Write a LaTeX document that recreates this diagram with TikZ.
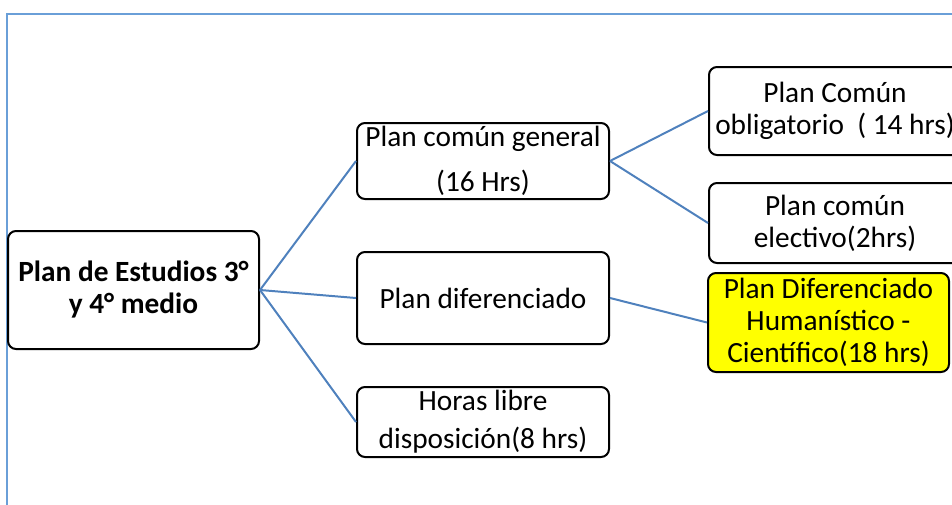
\documentclass[tikz,border=0pt]{standalone}
\usepackage{fontspec}
\setmainfont{Carlito}
\definecolor{linkblue}{HTML}{4F81BD}
\definecolor{framecol}{HTML}{6A9FD8}
\definecolor{hlyellow}{HTML}{FFFF00}
\begin{document}
\begin{tikzpicture}[x=0.75pt,y=-0.75pt,
  box/.style={draw=black, line width=1.5pt, rounded corners=6pt, align=center,
    inner sep=0pt, fill=white, font=\fontsize{22}{24}\selectfont},
  link/.style={draw=linkblue, line width=1.5pt}]
\useasboundingbox (0,0) rectangle (952,504);
\clip (0,0) rectangle (952,504);
\draw[framecol, line width=1.6pt] (960,14) -- (7,14) -- (7,510);

\node[box, minimum width=188.25pt, minimum height=88.5pt, font=\bfseries\fontsize{22}{24}\selectfont]
  (root) at (133.5,290) {Plan de Estudios 3°\\y 4° medio};

\node[box, minimum width=189pt, minimum height=57pt, font=\fontsize{22}{34}\selectfont]
  (gen) at (483,161) {Plan común general\\(16 Hrs)};
\node[box, minimum width=189pt, minimum height=69pt]
  (dif) at (483,298) {Plan diferenciado};
\node[box, minimum width=189pt, minimum height=52.5pt, font=\fontsize{22}{28.5}\selectfont]
  (lib) at (483,422) {Horas libre\\disposición(8 hrs)};

\node[box, minimum width=189pt, minimum height=66pt]
  (obl) at (835,111) {Plan Común\\obligatorio\ \ ( 14 hrs)};
\node[box, minimum width=189pt, minimum height=60pt]
  (ele) at (835,223) {Plan común\\electivo(2hrs)};
\node[box, fill=hlyellow, minimum width=180.75pt, minimum height=74.25pt]
  (hum) at (828.5,322.5) {Plan Diferenciado\\Humanístico -\\Científico(18 hrs)};

\draw[link] (root.east) -- (gen.west);
\draw[link] (root.east) -- (dif.west);
\draw[link] (root.east) -- (lib.west);
\draw[link] (gen.east) -- (obl.west);
\draw[link] (gen.east) -- (ele.west);
\draw[link] (dif.east) -- (hum.west);
\end{tikzpicture}
\end{document}
